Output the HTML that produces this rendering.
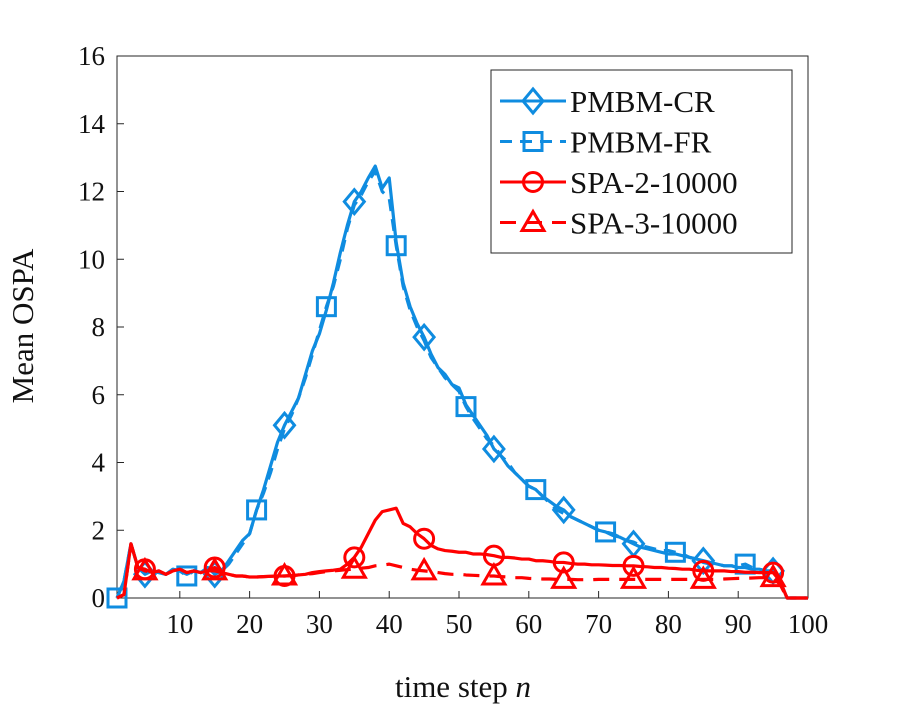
<!DOCTYPE html>
<html><head><meta charset="utf-8"><style>
body{margin:0;background:#fff;}
svg text{font-family:"Liberation Serif",serif;fill:#111;}
</style></head><body>
<svg id="chart" width="900" height="708" xmlns="http://www.w3.org/2000/svg">
<rect x="0" y="0" width="900" height="708" fill="#fff"/>
<g id="axes"></g><g id="series"></g><g id="legend"></g>
</svg>
<script>
const xTicks=[10,20,30,40,50,60,70,80,90,100];
const yTicks=[0,2,4,6,8,10,12,14,16];
const pmbmCR=[0,0.5,1.6,0.9,0.7,0.8,0.75,0.7,0.85,0.8,0.7,0.8,0.75,0.9,0.7,0.8,1.1,1.4,1.7,1.9,2.6,3.2,3.9,4.6,5.1,5.5,5.9,6.6,7.3,7.8,8.5,9.3,10.2,11.0,11.7,12.0,12.4,12.75,12.1,12.4,10.5,9.3,8.6,8.1,7.7,7.2,6.8,6.6,6.3,6.2,5.7,5.4,5.1,4.8,4.4,4.2,3.9,3.7,3.5,3.3,3.2,3.0,2.85,2.7,2.6,2.4,2.3,2.2,2.1,2.0,1.95,1.85,1.8,1.7,1.6,1.5,1.45,1.4,1.35,1.3,1.3,1.25,1.2,1.15,1.1,1.05,1.0,0.95,0.95,0.9,0.9,0.85,0.85,0.8,0.8,0.5,0,0,0,0];
const pmbmFR=[0,0.5,1.6,0.9,0.75,0.8,0.75,0.7,0.85,0.8,0.65,0.8,0.75,0.9,0.75,0.8,1.0,1.3,1.6,1.9,2.6,3.1,3.7,4.4,5.0,5.4,5.9,6.5,7.2,7.9,8.6,9.2,10.0,10.9,11.6,11.9,12.3,12.6,12.0,11.8,10.4,9.2,8.5,8.0,7.6,7.1,6.8,6.5,6.3,6.1,5.65,5.3,5.0,4.7,4.5,4.2,4.0,3.7,3.5,3.3,3.2,3.0,2.8,2.6,2.5,2.4,2.3,2.2,2.1,2.0,1.95,1.9,1.8,1.7,1.65,1.55,1.5,1.45,1.4,1.4,1.35,1.3,1.2,1.15,1.05,1.0,1.0,0.95,0.95,0.95,1.0,0.9,0.85,0.8,0.75,0.5,0,0,0,0];
const spa2=[0,0.1,1.6,0.9,0.85,0.75,0.8,0.7,0.8,0.85,0.75,0.8,0.75,0.8,0.9,0.75,0.7,0.65,0.65,0.62,0.62,0.63,0.64,0.65,0.65,0.66,0.68,0.7,0.75,0.78,0.8,0.82,0.85,1.0,1.2,1.5,1.9,2.3,2.55,2.6,2.65,2.2,2.1,1.9,1.75,1.55,1.45,1.4,1.38,1.35,1.35,1.3,1.3,1.28,1.25,1.2,1.2,1.18,1.15,1.15,1.1,1.1,1.08,1.05,1.05,1.02,1.0,1.0,0.98,0.98,0.97,0.96,0.96,0.95,0.95,0.93,0.92,0.9,0.9,0.88,0.87,0.85,0.85,0.82,0.8,0.8,0.8,0.8,0.78,0.78,0.76,0.76,0.75,0.75,0.75,0.5,0,0,0,0];
const spa3=[0,0.1,1.6,0.9,0.8,0.75,0.8,0.7,0.8,0.85,0.75,0.8,0.75,0.8,0.8,0.75,0.7,0.65,0.65,0.62,0.62,0.63,0.64,0.65,0.65,0.66,0.68,0.7,0.72,0.75,0.78,0.8,0.82,0.84,0.85,0.88,0.9,0.95,0.97,1.0,0.95,0.9,0.85,0.82,0.8,0.78,0.75,0.72,0.7,0.7,0.68,0.67,0.66,0.65,0.65,0.63,0.62,0.6,0.6,0.58,0.57,0.56,0.56,0.55,0.55,0.55,0.54,0.54,0.54,0.55,0.55,0.55,0.55,0.55,0.55,0.55,0.55,0.55,0.55,0.55,0.55,0.55,0.55,0.55,0.55,0.55,0.55,0.56,0.57,0.58,0.58,0.59,0.6,0.6,0.6,0.4,0,0,0,0];
const NS="http://www.w3.org/2000/svg";
const L=117,R=808,T=56,B=598;
const px=x=>L+(x-1)*(R-L)/99;
const py=y=>B-y*(B-T)/16;
function mk(t,a,p){const e=document.createElementNS(NS,t);for(const k in a)e.setAttribute(k,a[k]);p.appendChild(e);return e;}
const ax=document.getElementById('axes');
const frame=mk('rect',{x:L,y:T,width:R-L,height:B-T,fill:'none',stroke:'#262626','stroke-width':1},ax);


xTicks.forEach(v=>{
  const t=mk('line',{x1:px(v),x2:px(v),y1:B,y2:B-7,stroke:'#262626'},ax);
  
  
  const l=mk('text',{x:px(v),y:B+35,'text-anchor':'middle','font-size':27},ax);l.textContent=v;
  
  
});
yTicks.forEach(v=>{
  const t=mk('line',{x1:L,x2:L+7,y1:py(v),y2:py(v),stroke:'#262626'},ax);
  
  
  const l=mk('text',{x:L-12,y:py(v)+9,'text-anchor':'end','font-size':27},ax);l.textContent=v;
  
  
});
const xt=mk('text',{x:463,y:697,'text-anchor':'middle','font-size':31},ax);
xt.innerHTML='time step <tspan font-style="italic">n</tspan>';


const yt=mk('text',{x:0,y:0,'text-anchor':'middle','font-size':31,transform:'translate(33,326) rotate(-90)'},ax);
yt.textContent='Mean OSPA';


const BLUE='#0f8ce0',RED='#ff0000';
function marker(type,x,y,c,p){
  let e;
  if(type==='d')e=mk('polygon',{points:`${x},${y-12} ${x+10},${y} ${x},${y+12} ${x-10},${y}`},p);
  else if(type==='s')e=mk('rect',{x:x-9,y:y-9,width:18,height:18},p);
  else if(type==='o')e=mk('circle',{cx:x,cy:y,r:9.5},p);
  else e=mk('polygon',{points:`${x},${y-11} ${x+11},${y+8} ${x-11},${y+8}`},p);
  e.setAttribute('fill','none');e.setAttribute('stroke',c);e.setAttribute('stroke-width',3);
  return e;
}
const sg=document.getElementById('series');
const defs=[[pmbmCR,BLUE,'',"d",5,'pmbm-cr'],[pmbmFR,BLUE,'12 8',"s",1,'pmbm-fr'],[spa2,RED,'',"o",5,'spa-2-10000'],[spa3,RED,'16 10',"t",5,'spa-3-10000']];
defs.forEach(([d,c,dash,m,start,name])=>{
  const g=mk('g',{},sg);
  
  
  const pts=d.map((v,i)=>px(i+1)+','+py(v)).join(' ');
  const pl=mk('polyline',{points:pts,fill:'none',stroke:c,'stroke-width':3.2,'stroke-dasharray':dash,'stroke-linejoin':'round'},g);
  
  
  for(let x=start;x<=d.length;x+=10){
    const mm=marker(m,px(x),py(d[x-1]),c,g);
    
    
  }
});
const lg=document.getElementById('legend');
const box=mk('rect',{x:491,y:70,width:301,height:183,fill:'#fff',stroke:'#262626','stroke-width':1},lg);


const names=['PMBM-CR','PMBM-FR','SPA-2-10000','SPA-3-10000'];
names.forEach((n,i)=>{
  const y=101+i*40.5;
  const g=mk('g',{},lg);
  
  
  const d=defs[i];
  mk('line',{x1:500,x2:566,y1:y,y2:y,stroke:d[1],'stroke-width':3,'stroke-dasharray':d[2]},g);
  marker(d[3],533,y,d[1],g);
  const t=mk('text',{x:570,y:y+11,'font-size':31},g);t.textContent=n;
});
</script>
</body></html>
